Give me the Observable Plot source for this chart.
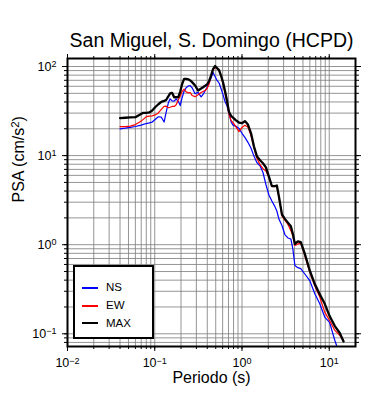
<!DOCTYPE html>
<html><head><meta charset="utf-8">
<script src="https://cdn.jsdelivr.net/npm/d3@7"></script>
<script src="https://cdn.jsdelivr.net/npm/@observablehq/plot@0.6"></script>
<style>
body{margin:0;background:#fff;font-family:"Liberation Sans",Arial,Helvetica,sans-serif;}
#wrap{position:relative;width:390px;height:400px;}
#legend{position:absolute;left:73px;top:265px;width:77px;height:70px;border:2px solid #000;background:#fff;}
.lg-line{position:absolute;left:7px;width:16px;height:2px;}
.lg-text{position:absolute;left:31px;font-size:11.5px;line-height:12px;color:#000;}
</style></head>
<body><div id="wrap"></div>
<script>
const title = "San Miguel, S. Domingo (HCPD)";
const xLabel = "Periodo (s)";
const yLabel = "PSA (cm/s²)";
const seriesNames = ["NS", "EW", "MAX"];

const periods = [0.040,0.046,0.0525,0.060,0.068,0.074,0.080,0.0865,0.0936,0.101,0.110,0.119,0.128,0.135,0.143,0.150,0.158,0.167,0.176,0.186,0.196,0.206,0.217,0.229,0.242,0.255,0.268,0.290,0.314,0.340,0.358,0.378,0.398,0.420,0.442,0.466,0.491,0.518,0.546,0.575,0.607,0.639,0.674,0.710,0.749,0.789,0.854,0.924,1.00,1.08,1.17,1.27,1.37,1.48,1.61,1.74,1.88,2.04,2.20,2.38,2.51,2.65,2.87,3.10,3.36,3.63,3.83,4.04,4.37,4.72,5.25,5.98,6.83,7.79,8.88,10.1,11.6,13.2,14.6];

const ns = [20.0,20.3,20.7,21.2,21.8,22.4,22.9,23.3,23.8,25.4,27.3,27.0,23.8,30.5,38.9,43.4,41.1,40.8,43.2,40.7,36.5,44.9,52.8,57.8,60.3,61.2,57.7,49.4,51.3,45.7,48.6,53.4,58.4,65.8,74.3,85.6,77.2,69.7,65.3,56.6,48.1,40.5,36.0,29.7,24.0,22.0,21.3,20.2,17.8,16.0,14.1,12.1,9.87,8.37,7.70,6.46,4.74,3.59,3.09,2.69,2.39,1.94,1.64,1.30,1.19,1.16,0.893,0.584,0.552,0.538,0.469,0.396,0.281,0.217,0.154,0.134,0.0841,0.058,null];

const ew = [21.2,21.2,21.4,22.3,24.0,25.5,27.4,27.8,27.9,28.6,30.1,33.1,35.7,35.9,34.5,34.9,35.6,35.6,37.2,42.0,46.8,52.3,55.9,51.9,50.7,51.1,47.2,45.9,48.1,51.1,52.4,53.8,56.6,63.9,78.6,92.1,96.9,95.4,88.8,79.2,63.3,50.4,39.6,29.0,24.8,23.5,21.0,18.6,20.7,21.9,20.9,16.7,12.3,9.40,7.91,7.14,6.72,5.68,4.50,4.49,4.56,3.41,2.10,1.89,1.69,1.44,1.26,0.980,1.02,1.04,0.756,0.491,0.345,0.258,0.175,0.141,0.109,0.0958,0.0826];

const mx = [26.4,26.6,26.8,27.0,28.9,30.2,30.1,30.5,32.1,34.9,37.7,40.1,41.2,42.1,46.1,50.0,50.7,45.2,45.2,45.2,52.4,63.6,72.8,72.8,71.8,69.7,66.8,61.2,53.8,56.6,58.6,60.7,62.8,68.8,79.2,93.3,101.3,95.7,91.3,79.2,66.1,53.1,41.0,30.9,28.0,26.6,24.9,23.5,23.1,24.4,22.3,17.8,12.7,9.85,8.86,8.20,7.39,5.77,4.56,4.54,4.62,3.48,2.19,1.95,1.77,1.61,1.32,1.02,1.09,1.07,0.790,0.513,0.361,0.278,0.217,0.158,0.122,0.102,0.082];

const xMajor = [0.01, 0.1, 1, 10];
const yMajor = [0.1, 1, 10, 100];

const xDomain = [0.01, 20];
const yDomain = [0.072, 123];
function minorTicks([lo, hi]) {
  const out = [];
  for (let k = Math.floor(Math.log10(lo)); k <= Math.ceil(Math.log10(hi)); k++) {
    for (let m = 1; m <= 9; m++) {
      const v = +(m * Math.pow(10, k)).toPrecision(6);
      if (v >= lo * 1.0001 && v <= hi * 0.9999) out.push(v);
    }
  }
  return out;
}
const xMinor = minorTicks(xDomain);
const yMinor = minorTicks(yDomain);

const fmtPow = d => "10^" + Math.round(Math.log10(d));
const none = () => "";

const series = [
  {name: seriesNames[0], values: ns, color: "#0000ff", width: 1.2},
  {name: seriesNames[1], values: ew, color: "#ff0000", width: 1.2},
  {name: seriesNames[2], values: mx, color: "#000000", width: 2.3}
];

const lineMarks = series.map(s => {
  const rows = periods.map((p, i) => ({period: p, psa: s.values[i]})).filter(r => r.psa != null);
  return Plot.line(rows, {x: "period", y: "psa", stroke: s.color, strokeWidth: s.width, strokeLinejoin: "round", clip: true});
});

const gridStyle = {stroke: "#7a7a7a", strokeOpacity: 1, strokeWidth: 0.8};

const chart = Plot.plot({
  width: 390, height: 400,
  marginTop: 58, marginRight: 35, marginBottom: 54, marginLeft: 67,
  style: {fontFamily: "'Liberation Sans', Arial, Helvetica, sans-serif", fontSize: "12.5px", color: "#000", background: "#fff"},
  x: {type: "log", domain: xDomain},
  y: {type: "log", domain: yDomain},
  marks: [
    Plot.gridX(xMinor, gridStyle),
    Plot.gridY(yMinor, gridStyle),
    Plot.axisX(xMinor, {anchor: "bottom", tickSize: 3, tickFormat: none, label: null}),
    Plot.axisX(xMinor, {anchor: "top", tickSize: 3, tickFormat: none, label: null}),
    Plot.axisX(xMajor, {anchor: "bottom", tickSize: 5, tickPadding: 7, tickFormat: fmtPow, label: null, fontSize: 12.5}),
    Plot.axisX(xMajor, {anchor: "top", tickSize: 5, tickFormat: none, label: null}),
    Plot.axisY(yMinor, {anchor: "left", tickSize: 3, tickFormat: none, label: null}),
    Plot.axisY(yMinor, {anchor: "right", tickSize: 3, tickFormat: none, label: null}),
    Plot.axisY(yMajor, {anchor: "left", tickSize: 5, tickPadding: 6, tickFormat: fmtPow, label: null, fontSize: 12.5}),
    Plot.axisY(yMajor, {anchor: "right", tickSize: 5, tickFormat: none, label: null}),
    ...lineMarks,
    Plot.frame({stroke: "#000", strokeWidth: 2}),
    Plot.text([title], {text: d => d, frameAnchor: "top", dy: -25.2, fontSize: 19.5, fill: "#000"}),
    Plot.text([xLabel], {text: d => d, frameAnchor: "bottom", dy: 36.6, fontSize: 16, fill: "#000"}),
    Plot.text([yLabel], {text: d => d, frameAnchor: "left", dx: -48.7, rotate: -90, fontSize: 16, fill: "#000"})
  ]
});

// render exponents and the squared unit as real superscripts
const SVGNS = "http://www.w3.org/2000/svg";
function setSup(t, base, sup, tail) {
  while (t.firstChild) t.removeChild(t.firstChild);
  t.appendChild(document.createTextNode(base));
  const s = document.createElementNS(SVGNS, "tspan");
  s.setAttribute("dy", "-0.42em");
  s.setAttribute("font-size", "0.72em");
  s.textContent = sup;
  t.appendChild(s);
  if (tail) {
    const r = document.createElementNS(SVGNS, "tspan");
    r.setAttribute("dy", "0.3em");
    r.textContent = tail;
    t.appendChild(r);
  }
}
chart.querySelectorAll("text").forEach(t => {
  const s = t.textContent;
  let m = s.match(/^10\^(-?\d+)$/);
  if (m) { setSup(t, "10", m[1].replace("-", "\u2212")); return; }
  if (s === yLabel) setSup(t, "PSA (cm/s", "2", ")");
});

const wrap = document.getElementById("wrap");
wrap.appendChild(chart);

const legend = document.createElement("div");
legend.id = "legend";
const entryY = [20.7, 38.7, 56.3];
series.forEach((s, i) => {
  const ln = document.createElement("div");
  ln.className = "lg-line";
  ln.style.top = (entryY[i] - (s.width > 2 ? 1.2 : 1)) + "px";
  ln.style.height = (s.width > 2 ? 2.4 : 2) + "px";
  ln.style.background = s.color;
  legend.appendChild(ln);
  const tx = document.createElement("div");
  tx.className = "lg-text";
  tx.style.top = (entryY[i] - 6.5) + "px";
  tx.textContent = s.name;
  legend.appendChild(tx);
});
wrap.appendChild(legend);
</script>
</body></html>
